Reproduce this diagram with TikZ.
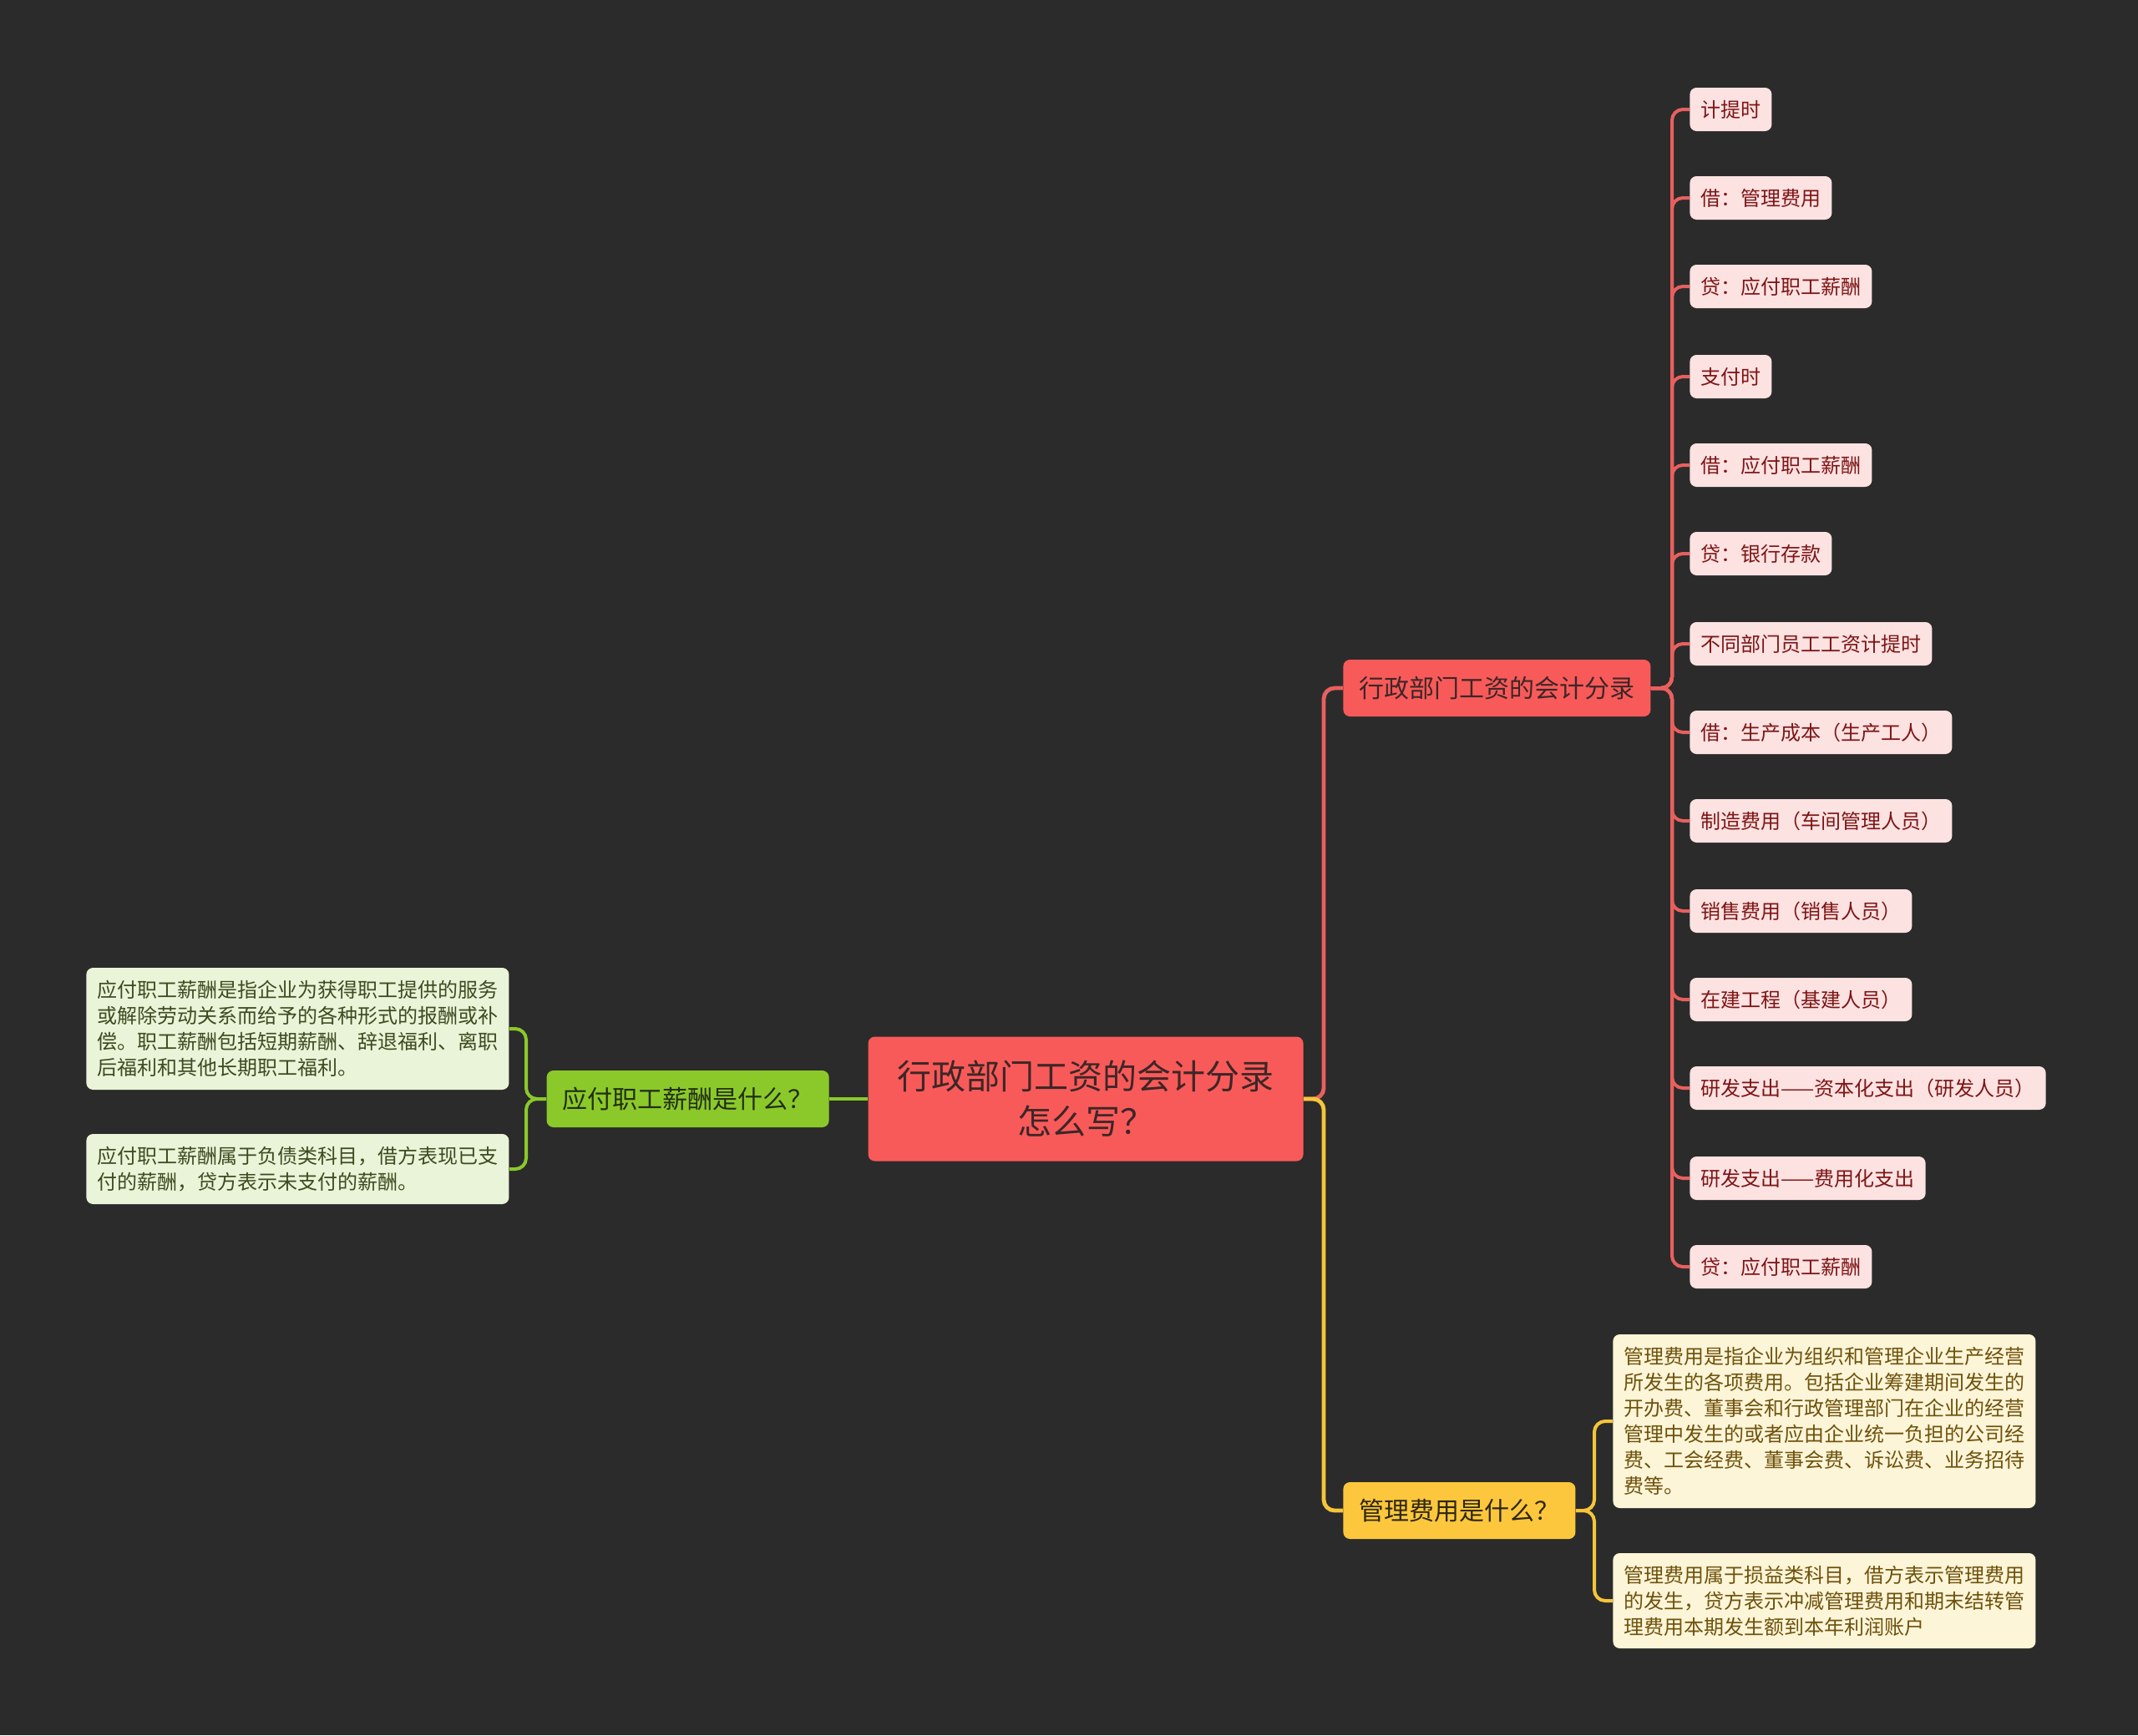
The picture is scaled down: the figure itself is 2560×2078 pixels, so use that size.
\documentclass[tikz,border=0pt]{standalone}
\usepackage{fontspec}
\setmainfont{Noto Sans CJK SC}
\usepackage{tikz}
\usetikzlibrary{positioning}

\definecolor{bgdark}{HTML}{2B2B2B}
\definecolor{rootred}{HTML}{F85A5A}
\definecolor{rootink}{HTML}{3D2626}
\definecolor{redline}{HTML}{E8605E}
\definecolor{pinkfill}{HTML}{FDE2E2}
\definecolor{pinkink}{HTML}{7E1515}
\definecolor{limefill}{HTML}{8BC92B}
\definecolor{limeink}{HTML}{222E10}
\definecolor{limeleaf}{HTML}{EAF4D8}
\definecolor{limeleafink}{HTML}{3E4A22}
\definecolor{goldfill}{HTML}{FCC73C}
\definecolor{goldline}{HTML}{F5C53A}
\definecolor{goldink}{HTML}{2E2710}
\definecolor{goldleaf}{HTML}{FDF5D8}
\definecolor{goldleafink}{HTML}{6E520C}

\begin{document}
\begin{tikzpicture}[
  x=0.5pt, y=-0.5pt,
  topic/.style={rounded corners=4pt, align=center, inner xsep=9.5pt,
                minimum height=34pt, font=\fontsize{15pt}{18pt}\selectfont},
  entry/.style={fill=pinkfill, text=pinkink, rounded corners=4pt, anchor=west,
                minimum height=26pt, inner xsep=6.5pt, inner ysep=0pt,
                font=\fontsize{12pt}{15pt}\selectfont},
  note/.style={rounded corners=4pt, align=left, inner xsep=6.5pt, inner ysep=3pt,
               font=\fontsize{12pt}{15.5pt}\selectfont},
  branch/.style={line width=2.4pt, rounded corners=6.5pt},
  twig/.style={line width=2pt, rounded corners=6.5pt},
]
  \fill[bgdark] (0,0) rectangle (2560,2078);

  % centre
  \node[fill=rootred, text=rootink, rounded corners=4pt, align=center,
        minimum width=260.5pt, minimum height=74.5pt,
        font=\fontsize{20.5pt}{27pt}\selectfont] (root) at (1300,1316)
       {行政部门工资的会计分录\\怎么写？};

  % first level
  \node[topic, fill=rootred, text=rootink, anchor=west] (acct) at (1608,824)
       {行政部门工资的会计分录};
  \node[topic, fill=goldfill, text=goldink, anchor=west] (fee) at (1608,1809)
       {管理费用是什么？};
  \node[topic, fill=limefill, text=limeink, anchor=east] (wage) at (993,1316)
       {应付职工薪酬是什么？};

  % entries
  \node[entry] (e1) at (2023,131) {计提时};
  \node[entry] (e2) at (2023,237) {借：管理费用};
  \node[entry] (e3) at (2023,343) {贷：应付职工薪酬};
  \node[entry] (e4) at (2023,451) {支付时};
  \node[entry] (e5) at (2023,557) {借：应付职工薪酬};
  \node[entry] (e6) at (2023,663) {贷：银行存款};
  \node[entry] (e7) at (2023,771) {不同部门员工工资计提时};
  \node[entry] (e8) at (2023,877) {借：生产成本（生产工人）};
  \node[entry] (e9) at (2023,983) {制造费用（车间管理人员）};
  \node[entry] (e10) at (2023,1091) {销售费用（销售人员）};
  \node[entry] (e11) at (2023,1197) {在建工程（基建人员）};
  \node[entry] (e12) at (2023,1303) {研发支出——资本化支出（研发人员）};
  \node[entry] (e13) at (2023,1411) {研发支出——费用化支出};
  \node[entry] (e14) at (2023,1517) {贷：应付职工薪酬};

  % notes
  \node[note, fill=limeleaf, text=limeleafink, anchor=west, minimum height=73pt]
       (wnote1) at (103,1232)
       {应付职工薪酬是指企业为获得职工提供的服务\\或解除劳动关系而给予的各种形式的报酬或补\\偿。职工薪酬包括短期薪酬、辞退福利、离职\\后福利和其他长期职工福利。};
  \node[note, fill=limeleaf, text=limeleafink, anchor=west, minimum height=42pt]
       (wnote2) at (103,1400)
       {应付职工薪酬属于负债类科目，借方表现已支\\付的薪酬，贷方表示未支付的薪酬。};
  \node[note, fill=goldleaf, text=goldleafink, anchor=west, minimum height=104pt]
       (fnote1) at (1931,1702)
       {管理费用是指企业为组织和管理企业生产经营\\所发生的各项费用。包括企业筹建期间发生的\\开办费、董事会和行政管理部门在企业的经营\\管理中发生的或者应由企业统一负担的公司经\\费、工会经费、董事会费、诉讼费、业务招待\\费等。};
  \node[note, fill=goldleaf, text=goldleafink, anchor=west, minimum height=57pt]
       (fnote2) at (1931,1917)
       {管理费用属于损益类科目，借方表示管理费用\\的发生，贷方表示冲减管理费用和期末结转管\\理费用本期发生额到本年利润账户};

  % connectors
  \coordinate (rootbus) at (1585,1316);
  \coordinate (acctbus) at (2002,824);
  \coordinate (feebus) at (1909,1809);
  \coordinate (wagebus) at (630,1316);

  \draw[branch, redline] (root.east) -- (rootbus) |- (acct.west);
  \draw[branch, goldline] (root.east) -- (rootbus) |- (fee.west);
  \draw[branch, limefill] (root.west) -- (wage.east);

  \draw[twig, redline] (acct.east) -- (acctbus) |- (e1.west);
  \draw[twig, redline] (acct.east) -- (acctbus) |- (e2.west);
  \draw[twig, redline] (acct.east) -- (acctbus) |- (e3.west);
  \draw[twig, redline] (acct.east) -- (acctbus) |- (e4.west);
  \draw[twig, redline] (acct.east) -- (acctbus) |- (e5.west);
  \draw[twig, redline] (acct.east) -- (acctbus) |- (e6.west);
  \draw[twig, redline] (acct.east) -- (acctbus) |- (e7.west);
  \draw[twig, redline] (acct.east) -- (acctbus) |- (e8.west);
  \draw[twig, redline] (acct.east) -- (acctbus) |- (e9.west);
  \draw[twig, redline] (acct.east) -- (acctbus) |- (e10.west);
  \draw[twig, redline] (acct.east) -- (acctbus) |- (e11.west);
  \draw[twig, redline] (acct.east) -- (acctbus) |- (e12.west);
  \draw[twig, redline] (acct.east) -- (acctbus) |- (e13.west);
  \draw[twig, redline] (acct.east) -- (acctbus) |- (e14.west);

  \draw[twig, goldline] (fee.east) -- (feebus) |- (fnote1.west);
  \draw[twig, goldline] (fee.east) -- (feebus) |- (fnote2.west);

  \draw[twig, limefill] (wage.west) -- (wagebus) |- (wnote1.east);
  \draw[twig, limefill] (wage.west) -- (wagebus) |- (wnote2.east);
\end{tikzpicture}
\end{document}
